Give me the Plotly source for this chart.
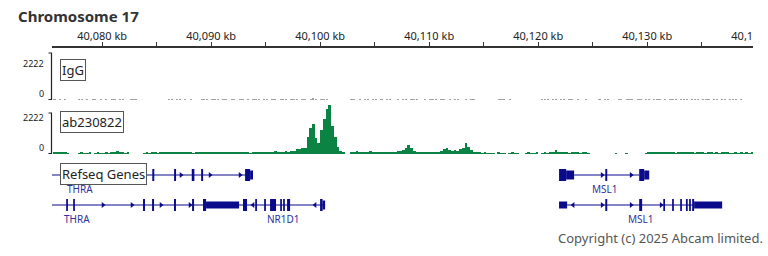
import plotly.graph_objects as go
import numpy as np

W, H = 768, 256
FONT = "Noto Sans"

# ---------------- data ----------------
TITLE = "Chromosome 17"
COPYRIGHT = "Copyright (c) 2025 Abcam limited."
VIEW_KB = [40075.4, 40139.7]
RULER_TICKS = [40080, 40090, 40100, 40110, 40120, 40130, 40140]
RULER_LABELS = ["40,080 kb", "40,090 kb", "40,100 kb", "40,110 kb", "40,120 kb", "40,130 kb", "40,140 kb"]
RULER_MINOR = [40085, 40095, 40105, 40115, 40125, 40135]
SCALE_MAX = 2222
SCALE_LABELS = ["2222", "0"]
TRACK_NAMES = ["IgG", "ab230822", "Refseq Genes"]

BIN_START = 40075.5   # kb, first bin start
BIN_KB = 0.25         # kb per bin

IGG = [
    30, 0, 30, 0, 30, 0, 0, 0, 0, 30, 30, 0, 30, 0, 30, 30, 0, 30, 0, 30,
    0, 30, 30, 0, 30, 30, 0, 0, 30, 30, 30, 0, 0, 0, 0, 0, 0, 0, 0, 0,
    0, 0, 30, 30, 0, 40, 30, 0, 30, 0, 30, 0, 0, 0, 30, 30, 40, 0, 30, 40,
    30, 0, 40, 30, 0, 30, 40, 0, 30, 40, 0, 30, 0, 30, 30, 40, 0, 30, 30, 0,
    30, 40, 0, 30, 30, 40, 0, 30, 40, 40, 0, 40, 30, 0, 40, 50, 30, 0, 30, 40,
    30, 0, 0, 0, 0, 0, 0, 0, 0, 30, 30, 0, 30, 0, 30, 30, 0, 30, 30, 0,
    30, 0, 40, 30, 0, 0, 30, 0, 30, 30, 0, 30, 30, 40, 0, 0, 30, 0, 30, 30,
    30, 0, 30, 30, 0, 30, 0, 30, 30, 0, 0, 30, 0, 30, 40, 0, 0, 0, 0, 0,
    0, 0, 0, 30, 30, 30, 0, 30, 0, 0, 0, 0, 0, 0, 0, 0, 0, 0, 0, 30,
    30, 30, 0, 40, 30, 0, 30, 30, 0, 30, 40, 0, 30, 0, 0, 30, 0, 0, 0, 0,
    30, 0, 30, 30, 0, 0, 0, 30, 30, 0, 40, 30, 30, 0, 30, 30, 0, 30, 30, 0,
    30, 30, 40, 0, 30, 0, 30, 40, 30, 0, 30, 40, 30, 0, 30, 30, 40, 0, 30, 30,
    30, 0, 40, 30, 0, 40, 40, 0, 30, 40, 30, 0, 30, 0, 0, 0, 0,
]

AB230822 = [
    80, 90, 70, 60, 80, 50, 0, 0, 0, 50, 60, 40, 50, 60, 0, 50, 60, 50, 40, 60,
    50, 60, 80, 150, 90, 60, 50, 70, 0, 0, 0, 0, 0, 40, 60, 50, 70, 60, 50, 80,
    70, 90, 120, 80, 60, 100, 70, 90, 130, 80, 60, 50, 70, 80, 60, 110, 90, 70, 100, 60,
    80, 60, 90, 70, 100, 80, 70, 60, 80, 90, 70, 60, 50, 70, 90, 60, 80, 100, 70, 120,
    80, 170, 100, 90, 120, 150, 130, 170, 160, 250, 280, 300, 330, 900, 1400, 1650, 850, 620, 1300, 1900,
    2450, 2650, 1500, 900, 400, 150, 60, 0, 0, 60, 80, 150, 90, 70, 80, 90, 150, 100, 70, 60,
    70, 60, 90, 80, 100, 120, 150, 170, 220, 350, 500, 300, 150, 100, 80, 60, 90, 70, 60, 80,
    100, 130, 180, 250, 330, 200, 150, 200, 180, 250, 350, 600, 400, 200, 120, 80, 60, 50, 70, 50,
    50, 40, 0, 60, 50, 40, 0, 50, 60, 40, 50, 0, 0, 40, 60, 50, 40, 60, 0, 50,
    60, 50, 80, 100, 200, 80, 60, 60, 70, 50, 80, 100, 60, 50, 70, 60, 40, 0, 0, 0,
    0, 0, 0, 0, 0, 0, 40, 0, 0, 0, 40, 0, 0, 0, 0, 0, 0, 50, 60, 80,
    90, 70, 60, 100, 80, 60, 120, 70, 50, 80, 60, 100, 70, 90, 60, 50, 80, 60, 70, 50,
    60, 80, 50, 70, 40, 60, 90, 60, 50, 40, 70, 50, 60, 40, 80, 50, 60,
]

# Gene models: row, intron line (start, end), exons (start, end, kind), arrows (pos, dir), label (text, pos)
GENES = [
    dict(row=1, line=(40075.4, 40093.57),
         exons=[(40084.60, 40084.78, "cds"), (40086.60, 40086.78, "cds"), (40088.22, 40088.46, "cds"),
                (40089.08, 40089.26, "cds"), (40093.11, 40093.57, "cds"), (40093.57, 40093.84, "mid")],
         arrows=[(40087.23, 1), (40089.90, 1), (40092.65, 1)],
         label=("THRA", 40077.97)),
    dict(row=1, line=(40123.29, 40129.26),
         exons=[(40121.91, 40122.56, "cds"), (40122.56, 40123.29, "mid"), (40126.15, 40126.33, "cds"),
                (40129.26, 40129.72, "cds"), (40129.72, 40130.18, "mid")],
         arrows=[(40125.86, 1), (40128.52, 1)],
         label=("MSL1", 40126.13)),
    dict(row=2, line=(40075.4, 40092.56),
         exons=[(40076.70, 40076.86, "cds"), (40077.34, 40077.50, "cds"), (40083.75, 40083.93, "cds"),
                (40084.58, 40084.76, "cds"), (40086.59, 40086.77, "cds"), (40088.25, 40088.43, "cds"),
                (40089.25, 40089.53, "cds"), (40089.53, 40092.56, "utr")],
         arrows=[(40080.08, 1), (40082.74, 1), (40085.40, 1), (40088.06, 1)],
         label=("THRA", 40077.69)),
    dict(row=2, line=(40092.56, 40100.45),
         exons=[(40092.92, 40093.29, "cds"), (40094.04, 40094.20, "cds"), (40094.86, 40095.02, "cds"),
                (40095.40, 40095.95, "cds"), (40096.33, 40096.49, "cds"), (40096.60, 40096.76, "cds"),
                (40096.96, 40097.24, "cds"), (40099.99, 40100.22, "cds"), (40100.22, 40100.45, "mid")],
         arrows=[(40093.84, -1), (40099.53, -1)],
         label=("NR1D1", 40096.59)),
    dict(row=2, line=(40122.65, 40134.30),
         exons=[(40121.91, 40122.65, "utr"), (40126.15, 40126.33, "cds"), (40129.26, 40129.53, "cds"),
                (40131.47, 40131.63, "cds"), (40132.28, 40132.44, "cds"), (40133.02, 40133.18, "cds"),
                (40133.55, 40133.71, "cds"), (40133.84, 40134.00, "cds"), (40134.12, 40134.30, "cds"),
                (40134.30, 40136.87, "utr")],
         arrows=[(40123.20, -1), (40125.86, 1), (40128.52, 1), (40131.27, 1)],
         label=("MSL1", 40129.44)),
]

# ---------------- styling / layout helpers ----------------
def fy(px):
    return 1 - px / H

def fx(px):
    return px / W

X0, X1 = 52, 753
GENE_COLOR = "#0a0a8c"
LABEL_COLOR = "#2f2fa0"
GREEN = "#0b8443"
GRAY = "#a0a0a0"
EXON_PX = {"cds": 12, "mid": 9, "utr": 7}
ROW_PX = 30.0
RULER_TOP_PX, RULER_AXIS_PX, RULER_LABEL_PX = 28, 46, 37

centers = BIN_START + BIN_KB * (np.arange(len(AB230822)) + 0.5)
centers_igg = BIN_START + BIN_KB * (np.arange(len(IGG)) + 0.5)

fig = go.Figure()

# ruler tick labels as clipped text (the last label is cut at the track edge, as in the original)
label_y = (RULER_AXIS_PX - RULER_LABEL_PX) / (RULER_AXIS_PX - RULER_TOP_PX)
fig.add_trace(go.Scatter(x=RULER_TICKS, y=[label_y] * len(RULER_TICKS), xaxis="x", yaxis="y",
                         mode="text", text=RULER_LABELS, textposition="middle center",
                         textfont=dict(family=FONT, size=11, color="#222"), cliponaxis=True,
                         showlegend=False, hoverinfo="skip"))

fig.add_trace(go.Bar(x=centers_igg, y=IGG, xaxis="x2", yaxis="y2", width=BIN_KB * 0.8,
                     marker=dict(color=GRAY, line=dict(width=0)), showlegend=False, hoverinfo="skip"))
fig.add_trace(go.Bar(x=centers, y=AB230822, xaxis="x3", yaxis="y3", width=BIN_KB,
                     marker=dict(color=GREEN, line=dict(width=0)), showlegend=False, hoverinfo="skip"))

shapes = []
annotations = []

# gene models
for g in GENES:
    r = g["row"]
    shapes.append(dict(type="line", xref="x4", yref="y4", x0=g["line"][0], x1=g["line"][1], y0=r, y1=r,
                       line=dict(color=GENE_COLOR, width=1)))
    for s, e, kind in g["exons"]:
        h = EXON_PX[kind] / ROW_PX / 2
        shapes.append(dict(type="rect", xref="x4", yref="y4", x0=s, x1=e, y0=r - h, y1=r + h,
                           fillcolor=GENE_COLOR, line=dict(width=0)))
    for direction in (1, -1):
        pts = [p for p, d in g["arrows"] if d == direction]
        if pts:
            fig.add_trace(go.Scatter(x=pts, y=[r] * len(pts), xaxis="x4", yaxis="y4", mode="markers",
                                     marker=dict(symbol="triangle-right" if direction > 0 else "triangle-left",
                                                 size=5, color=GENE_COLOR),
                                     showlegend=False, hoverinfo="skip"))
    txt, pos = g["label"]
    annotations.append(dict(text=txt, xref="x4", yref="y4", x=pos, y=r + 14 / ROW_PX, showarrow=False,
                            xanchor="center", yanchor="middle",
                            font=dict(family=FONT, size=10, color=LABEL_COLOR)))

# scale brackets + labels (pixel positions)
for top_py, bot_py, top_lbl_py, bot_lbl_py in ((53, 99.5, 63, 93), (113, 153.5, 117, 147)):
    shapes.append(dict(type="path", xref="paper", yref="paper",
                       path=f"M {fx(48.5)},{fy(top_py)} L {fx(51.5)},{fy(top_py)} "
                            f"L {fx(51.5)},{fy(bot_py)} L {fx(48.5)},{fy(bot_py)}",
                       line=dict(color="#222", width=1.2)))
    annotations.append(dict(text=SCALE_LABELS[0], xref="paper", yref="paper", x=fx(46), y=fy(top_lbl_py),
                            xanchor="right", yanchor="middle", showarrow=False,
                            font=dict(family=FONT, size=9, color="#222")))
    annotations.append(dict(text=SCALE_LABELS[1], xref="paper", yref="paper", x=fx(46), y=fy(bot_lbl_py),
                            xanchor="right", yanchor="middle", showarrow=False,
                            font=dict(family=FONT, size=9, color="#222")))

# track name boxes
for name, py in zip(TRACK_NAMES, (69.5, 121.5, 173.5)):
    annotations.append(dict(text=name, xref="paper", yref="paper", x=fx(60), y=fy(py),
                            xanchor="left", yanchor="middle", showarrow=False,
                            bgcolor="white", bordercolor="#555", borderwidth=1, borderpad=1,
                            font=dict(family=FONT, size=13, color="#222")))

annotations.append(dict(text=TITLE, xref="paper", yref="paper", x=fx(16), y=fy(16), xanchor="left",
                        yanchor="middle", showarrow=False,
                        font=dict(family=FONT, size=15, color="#333", weight="bold")))
annotations.append(dict(text=COPYRIGHT, xref="paper", yref="paper", x=fx(765), y=fy(238), xanchor="right",
                        yanchor="middle", showarrow=False,
                        font=dict(family=FONT, size=13, color="#555")))

hidden_x = dict(range=VIEW_KB, domain=[fx(X0), fx(X1)], visible=False, fixedrange=True)

AB_TOP_PX = 100
ab_range_top = SCALE_MAX * (154 - AB_TOP_PX) / (154 - 113)

fig.update_layout(
    width=W, height=H, margin=dict(l=0, r=0, t=0, b=0),
    paper_bgcolor="white", plot_bgcolor="rgba(0,0,0,0)",
    bargap=0, showlegend=False,
    xaxis=dict(range=VIEW_KB, domain=[fx(X0), fx(X1)], side="bottom", anchor="y",
               showline=True, linecolor="#333", linewidth=1.5, showgrid=False, zeroline=False,
               ticks="inside", ticklen=4, tickwidth=1, tickcolor="#333",
               tickvals=RULER_TICKS, showticklabels=False,
               minor=dict(tickvals=RULER_MINOR, ticks="inside", ticklen=4, tickcolor="#333", tickwidth=1,
                          showgrid=False)),
    yaxis=dict(domain=[fy(RULER_AXIS_PX), fy(RULER_TOP_PX)], visible=False, range=[0, 1]),
    xaxis2=dict(hidden_x, anchor="y2"),
    yaxis2=dict(domain=[fy(100), fy(53)], range=[0, SCALE_MAX], visible=False, anchor="x2"),
    xaxis3=dict(hidden_x, anchor="y3"),
    yaxis3=dict(domain=[fy(154), fy(AB_TOP_PX)], range=[0, ab_range_top], visible=False, anchor="x3"),
    xaxis4=dict(hidden_x, anchor="y4"),
    yaxis4=dict(domain=[fy(220), fy(160)], range=[2.5, 0.5], visible=False, anchor="x4"),
    shapes=shapes, annotations=annotations,
)

fig.write_html("out.html")
